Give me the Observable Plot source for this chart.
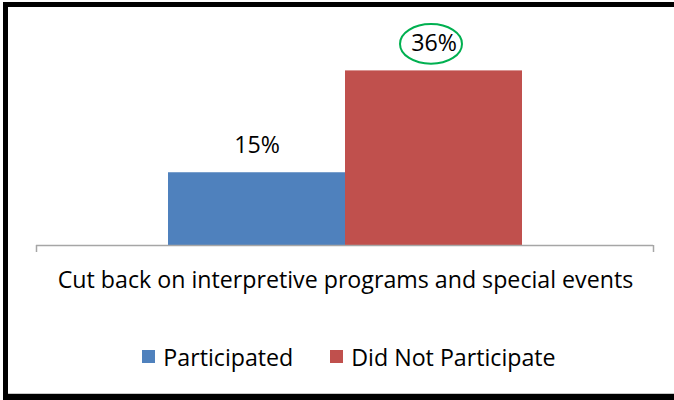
<!DOCTYPE html>
<html>
<head>
<meta charset="utf-8">
<script src="https://cdn.jsdelivr.net/npm/d3@7"></script>
<script src="https://cdn.jsdelivr.net/npm/@observablehq/plot@0.6"></script>
<style>
  html, body { margin: 0; padding: 0; background: #fff; }
  #wrap { position: relative; width: 674px; height: 400px; overflow: hidden; background: #fff; font-family: "Open Sans", sans-serif; }
  #frame { position: absolute; left: 3px; top: 2px; width: 700px; height: 387px; border-left: 5px solid #000; border-top: 5px solid #000; border-bottom: 6px solid #000; box-shadow: inset 0 -1px 0 #c8c8c8; }
  #chart { position: absolute; left: 0; top: 0; }
  #legend { position: absolute; left: 12px; top: 340px; width: 674px; display: flex; justify-content: center; }
  .lg-swatches { font-family: "Open Sans", sans-serif !important; font-size: 23.2px !important; color: #000; justify-content: center; width: 674px; margin: 0 !important; }
  .lg-swatch { margin-right: 37px !important; }
  .lg-swatch:last-child { margin-right: 0 !important; }
  .lg-swatch > svg { margin-right: 8px !important; }
</style>
</head>
<body>
<div id="wrap">
  <div id="frame"></div>
  <div id="chart"></div>
  <div id="legend"></div>
</div>
<script>
// ---- data ----
const category = "Cut back on interpretive programs and special events";
const series = ["Participated", "Did Not Participate"];
const values = [15, 36];
const colors = ["#4F81BD", "#C0504D"];
const highlighted = ["Did Not Participate"];

const data = series.map((s, i) => ({series: s, value: values[i], category}));

// ---- layout ----
const W = 674, H = 300;
const mLeft = 168, mRight = 152, mTop = 51, mBottom = 55;
const axisLeft = 36, axisRight = 653;
const frameCenter = (mLeft + (W - mRight)) / 2;
const fontSize = 23.2;

// ellipse symbol for the highlighted label
const ellipse = {
  draw(context, size) {
    const rx = Math.sqrt(size / Math.PI);
    const ry = rx * 0.64;
    const k = 0.5523;
    context.moveTo(rx, 0);
    context.bezierCurveTo(rx, ry * k, rx * k, ry, 0, ry);
    context.bezierCurveTo(-rx * k, ry, -rx, ry * k, -rx, 0);
    context.bezierCurveTo(-rx, -ry * k, -rx * k, -ry, 0, -ry);
    context.bezierCurveTo(rx * k, -ry, rx, -ry * k, rx, 0);
    context.closePath();
  }
};

const axisStyle = {stroke: "#a6a6a6", strokeWidth: 1.5};

const chart = Plot.plot({
  width: W,
  height: H,
  marginLeft: mLeft,
  marginRight: mRight,
  marginTop: mTop,
  marginBottom: mBottom,
  style: {fontFamily: "'Open Sans', sans-serif", background: "transparent", overflow: "visible"},
  x: {type: "band", domain: series, paddingInner: 0, paddingOuter: 0, axis: null},
  y: {domain: [0, 40], axis: null},
  color: {domain: series, range: colors},
  marks: [
    Plot.barY(data, {x: "series", y: "value", fill: "series"}),
    Plot.ruleY([0], {...axisStyle, insetLeft: -(mLeft - axisLeft), insetRight: -(axisRight - (W - mRight))}),
    Plot.ruleX([category], {x: null, y1: 0, y2: 0, insetBottom: -7, dx: axisLeft - frameCenter, ...axisStyle}),
    Plot.ruleX([category], {x: null, y1: 0, y2: 0, insetBottom: -7, dx: axisRight - frameCenter, ...axisStyle}),
    Plot.text(data, {x: "series", y: "value", text: d => d.value + "%", dy: -27, fontSize, fill: "#000"}),
    Plot.dot(data.filter(d => highlighted.includes(d.series)), {x: "series", y: "value", dy: -27, dx: -3, r: 31, symbol: ellipse, stroke: "#00B050", strokeWidth: 2, fill: "none"}),
    Plot.text([category], {frameAnchor: "bottom", dy: 42, fontSize, fill: "#000"})
  ]
});
document.getElementById("chart").appendChild(chart);

const legend = Plot.legend({
  color: {type: "ordinal", domain: series, range: colors},
  legend: "swatches",
  swatchSize: 13,
  className: "lg"
});
document.getElementById("legend").appendChild(legend);
</script>
</body>
</html>
